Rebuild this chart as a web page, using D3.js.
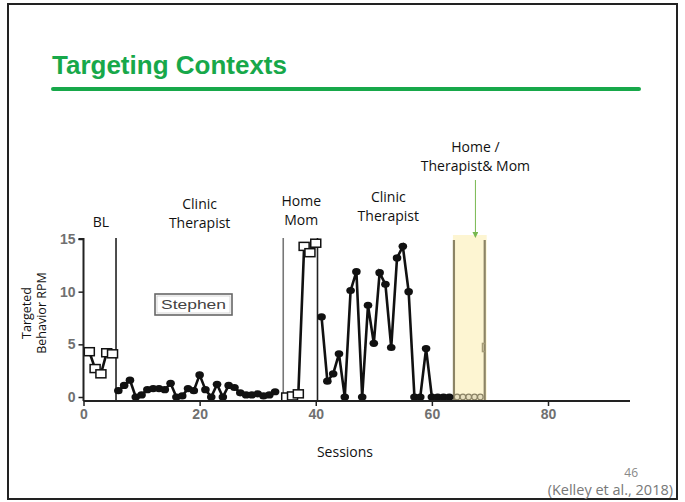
<!DOCTYPE html>
<html>
<head>
<meta charset="utf-8">
<script src="https://cdn.jsdelivr.net/npm/d3@7"></script>
<style>
  body { margin: 0; background: #fff; }
  svg { display: block; }
</style>
</head>
<body>
<svg id="chart" width="685" height="502"></svg>
<script>
// baseline (open squares)
const blSessions = [1, 2, 3, 4, 5];
const blValues = [4.3, 2.7, 2.2, 4.2, 4.1];

// clinic / therapist, first phase (filled dots)
const clinic1Sessions = d3.range(6, 34);
const clinic1Values = [0.6, 1.1, 1.6, 0, 0.2, 0.7, 0.8, 0.8, 0.7, 1.3, 0, 0.1, 0.8, 0.6,
    2.1, 0.7, 0, 1.2, 0, 1.1, 0.9, 0.4, 0.2, 0.2, 0.3, 0.1, 0.2, 0.5];

// home / mom (open squares)
const homeSessions = [35, 36, 37, 38, 39, 40];
const homeValues = [0, 0.1, 0.3, 14.3, 13.7, 14.6];

// clinic / therapist, second phase
const clinic2Sessions = d3.range(41, 64);
const clinic2Values = [7.6, 1.5, 2.2, 4.1, 0, 10.1, 11.9, 0, 8.7, 5.1, 11.8, 10.7, 4.7,
    13.2, 14.3, 10.0, 0, 0, 4.6, 0, 0, 0, 0];

// home / therapist & mom (shaded)
const bothSessions = [64, 65, 66, 67, 68];
const bothValues = [0, 0, 0, 0, 0];
const bothSquareSession = [69.5];
const bothSquareValue = [4.7];

const phaseLines = [5.6, 34.4, 40.3];
const shadedPhase = [63.8, 69.1];

const xTicks = [0, 20, 40, 60, 80];
const yTicks = [0, 5, 10, 15];

const phaseLabels = [
    { s: 3, lines: ["BL"] },
    { s: 20, lines: ["Clinic", "Therapist"] },
    { s: 37.5, lines: ["Home", "Mom"] },
    { s: 52.5, lines: ["Clinic", "Therapist"] },
    { s: 67.5, lines: ["Home /", "Therapist& Mom"] }
];

const svg = d3.select("#chart");
const green = "#17a84a";
const labelFont = "'Open Sans', sans-serif";

// slide frame
svg.append("rect").attr("x", 8).attr("y", 4).attr("width", 669).attr("height", 495)
    .attr("fill", "none").attr("stroke", "#222").attr("stroke-width", 2);

svg.append("text").attr("x", 52).attr("y", 74)
    .attr("font-family", "'Liberation Sans', Arial, sans-serif").attr("font-weight", "bold")
    .attr("font-size", 26).attr("fill", green).text("Targeting Contexts");
svg.append("line").attr("x1", 53).attr("x2", 639).attr("y1", 89).attr("y2", 89)
    .attr("stroke", green).attr("stroke-width", 4).attr("stroke-linecap", "round");

const x = d3.scaleLinear().domain([0, 80]).range([83.5, 548]);
const y = d3.scaleLinear().domain([0, 15]).range([397, 239]);
const axisY = 401;

const plot = svg.append("g");

// shaded phase
plot.append("rect")
    .attr("x", x(shadedPhase[0]) - 1).attr("y", 235)
    .attr("width", x(shadedPhase[1]) - x(shadedPhase[0]) + 3).attr("height", axisY - 235)
    .attr("fill", "#fdf5d2");

// phase lines
plot.selectAll(".phase").data(phaseLines).enter().append("line")
    .attr("x1", d => x(d)).attr("x2", d => x(d))
    .attr("y1", 238).attr("y2", axisY)
    .attr("stroke", (d, i) => i === 1 ? "#777" : "#222").attr("stroke-width", 1.6);
plot.selectAll(".phase2").data(shadedPhase).enter().append("line")
    .attr("x1", d => x(d)).attr("x2", d => x(d))
    .attr("y1", 240).attr("y2", axisY)
    .attr("stroke", "#8c8466").attr("stroke-width", 2.2);

// axes
const yAxis = d3.axisLeft(y).tickValues(yTicks).tickSize(5).tickPadding(3);
const yg = svg.append("g").attr("transform", `translate(${x(0)},0)`).call(yAxis);
yg.select(".domain").attr("d", `M-5,${y(15)}H0V${axisY}`).attr("stroke", "#222").attr("stroke-width", 2);
yg.selectAll(".tick line").attr("stroke", "#222").attr("stroke-width", 1.5);

const xAxis = d3.axisBottom(x).tickValues(xTicks).tickSize(5).tickPadding(3);
const xg = svg.append("g").attr("transform", `translate(0,${axisY})`).call(xAxis);
xg.select(".domain").attr("d", `M${x(0)},0H630`).attr("stroke", "#222").attr("stroke-width", 2);
xg.selectAll(".tick line").attr("stroke", "#222").attr("stroke-width", 1.5);

svg.selectAll(".tick text")
    .attr("font-family", "'Liberation Sans', Arial, sans-serif")
    .attr("font-size", 14).attr("font-weight", "bold").attr("fill", "#707070");

// series
const line = d3.line().x(d => x(d[0])).y(d => y(d[1]));
const zip = (s, v) => s.map((d, i) => [d, v[i]]);

function drawSeries(data, marker, color) {
    plot.append("path").datum(data).attr("d", line)
        .attr("fill", "none").attr("stroke", color).attr("stroke-width", 2.6);
    if (marker === "dot") {
        plot.selectAll(null).data(data).enter().append("ellipse")
            .attr("cx", d => x(d[0])).attr("cy", d => y(d[1]))
            .attr("rx", 4.3).attr("ry", 3.6).attr("fill", color);
    } else {
        plot.selectAll(null).data(data).enter().append("rect")
            .attr("x", d => x(d[0]) - 5).attr("y", d => y(d[1]) - 4)
            .attr("width", 10).attr("height", 8)
            .attr("fill", "#fff").attr("stroke", color).attr("stroke-width", 1.5);
    }
}

drawSeries(zip(blSessions, blValues), "square", "#111");
drawSeries(zip(clinic1Sessions, clinic1Values), "dot", "#111");
drawSeries(zip(homeSessions, homeValues), "square", "#111");
drawSeries(zip(clinic2Sessions, clinic2Values), "dot", "#111");

// shaded phase data (faded)
plot.append("path").datum(zip(bothSessions, bothValues)).attr("d", line)
    .attr("transform", "translate(2,0)")
    .attr("fill", "none").attr("stroke", "#8c8466").attr("stroke-width", 2);
plot.selectAll(null).data(zip(bothSessions, bothValues)).enter().append("circle")
    .attr("cx", d => x(d[0]) + 2).attr("cy", d => y(d[1]))
    .attr("r", 2.8).attr("fill", "#e8e0c0").attr("stroke", "#8c8466").attr("stroke-width", 1.2);
svg.append("clipPath").attr("id", "shadeClip").append("rect")
    .attr("x", 0).attr("y", 0).attr("width", x(shadedPhase[1]) + 1).attr("height", 502);
plot.append("g").attr("clip-path", "url(#shadeClip)")
    .selectAll("rect").data(zip(bothSquareSession, bothSquareValue)).enter().append("rect")
    .attr("x", d => x(d[0]) - 4.5).attr("y", d => y(d[1]) - 4)
    .attr("width", 9).attr("height", 8)
    .attr("fill", "none").attr("stroke", "#a59c78").attr("stroke-width", 1.6);

// Stephen label
svg.append("rect").attr("x", 155).attr("y", 294).attr("width", 77).attr("height", 21)
    .attr("fill", "#fff").attr("stroke", "#666").attr("stroke-width", 1.6);
svg.append("rect").attr("x", 157).attr("y", 296).attr("width", 73).attr("height", 17)
    .attr("fill", "none").attr("stroke", "#ccc").attr("stroke-width", 0.8);
svg.append("text").attr("x", 161).attr("y", 309)
    .attr("font-family", "'Liberation Sans', Arial, sans-serif").attr("font-size", 13)
    .attr("textLength", 65).attr("lengthAdjust", "spacingAndGlyphs")
    .attr("fill", "#444").text("Stephen");

// phase labels
const labelY = [227, 228, 225, 221, 171];
phaseLabels.forEach((p, i) => {
    const n = p.lines.length;
    const t = svg.append("text").attr("text-anchor", "middle")
        .attr("font-family", labelFont).attr("font-size", 14).attr("fill", "#111");
    p.lines.forEach((l, j) => {
        t.append("tspan").attr("x", x(p.s)).attr("y", labelY[i] - (n - 1 - j) * 19).text(l);
    });
});

// arrow to shaded phase
svg.append("defs").append("marker").attr("id", "arr")
    .attr("viewBox", "0 0 6 6").attr("refX", 5).attr("refY", 3)
    .attr("markerWidth", 6).attr("markerHeight", 6).attr("orient", "auto")
    .append("path").attr("d", "M0,0L6,3L0,6Z").attr("fill", "#78b84f");
svg.append("line").attr("x1", x(67.5)).attr("x2", x(67.5)).attr("y1", 180).attr("y2", 237)
    .attr("stroke", "#78b84f").attr("stroke-width", 1).attr("marker-end", "url(#arr)");

// axis titles
svg.append("text").attr("transform", "translate(31,313) rotate(-90)")
    .attr("text-anchor", "middle").attr("font-family", labelFont).attr("font-size", 12.5)
    .attr("fill", "#111")
    .selectAll("tspan").data(["Targeted", "Behavior RPM"]).enter().append("tspan")
    .attr("x", 0).attr("dy", (d, i) => i === 0 ? 0 : 15).text(d => d);

svg.append("text").attr("x", 345).attr("y", 457).attr("text-anchor", "middle")
    .attr("font-family", labelFont).attr("font-size", 14).attr("fill", "#111").text("Sessions");

svg.append("text").attr("x", 638).attr("y", 477).attr("text-anchor", "end")
    .attr("font-family", labelFont).attr("font-size", 12).attr("fill", "#888").text("46");
svg.append("text").attr("x", 673).attr("y", 495).attr("text-anchor", "end")
    .attr("font-family", labelFont).attr("font-size", 14.5).attr("fill", "#777")
    .text("(Kelley et al., 2018)");
</script>
</body>
</html>
